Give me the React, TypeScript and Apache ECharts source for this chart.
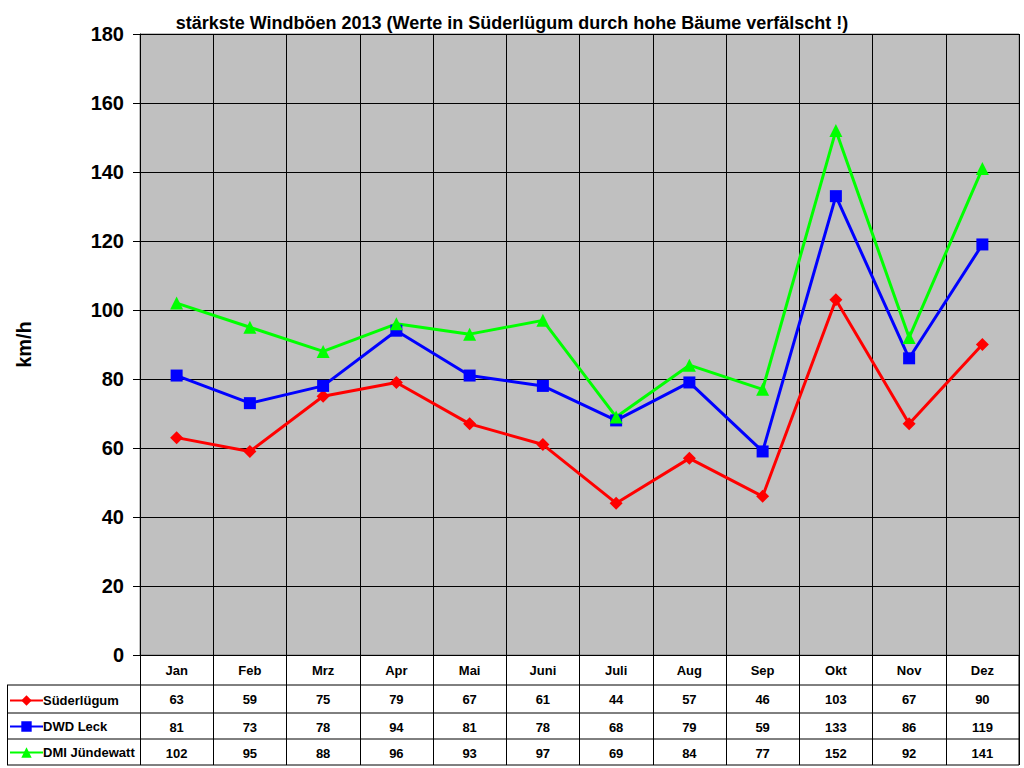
import React, { useEffect, useRef } from "react";
import * as echarts from "echarts";

const months = ["Jan", "Feb", "Mrz", "Apr", "Mai", "Juni", "Juli", "Aug", "Sep", "Okt", "Nov", "Dez"];
const suederluegum = [63, 59, 75, 79, 67, 61, 44, 57, 46, 103, 67, 90];
const dwdLeck = [81, 73, 78, 94, 81, 78, 68, 79, 59, 133, 86, 119];
const dmiJuendewatt = [102, 95, 88, 96, 93, 97, 69, 84, 77, 152, 92, 141];
const seriesNames = ["Süderlügum", "DWD Leck", "DMI Jündewatt"];
const yTicks = { min: 0, max: 180, interval: 20 };

const FONT = "'Liberation Sans', Arial, sans-serif";

export default function App() {
  const ref = useRef<HTMLDivElement>(null);
  useEffect(() => {
    if (!ref.current) return;
    const chart = echarts.init(ref.current, null, { renderer: "svg" });
    const gridLeft = 140, gridRight = 5, gridTop = 34, gridBottom = 113;
    const axisY = 768 - gridBottom;
    const rowLines = [685, 713, 739, 765];
    const mkSeries = (name: string, data: number[], color: string, symbol: string, size: number) => ({
      name,
      type: "line",
      data,
      symbol,
      symbolSize: size,
      showSymbol: true,
      itemStyle: { color },
      lineStyle: { color, width: 3 },
      z: 3,
    });
    const cell = { fontFamily: FONT, fontSize: 13, fontWeight: "bold", color: "#000" };
    chart.setOption({
      animation: false,
      textStyle: { fontFamily: FONT },
      title: {
        text: "stärkste Windböen 2013 (Werte in Süderlügum durch hohe Bäume verfälscht !)",
        left: "center",
        top: 9,
        textStyle: { fontFamily: FONT, fontSize: 18, fontWeight: "bold", color: "#000" },
      },
      legend: {
        orient: "vertical",
        left: 9,
        top: 693,
        padding: 0,
        itemWidth: 33,
        itemHeight: 13,
        itemGap: 11,
        data: seriesNames,
        textStyle: {
          fontFamily: FONT,
          fontSize: 13,
          lineHeight: 15,
          fontWeight: "bold",
          color: "#000",
          padding: [0, 0, 0, -5],
        },
      },
      grid: {
        left: gridLeft,
        right: gridRight,
        top: gridTop,
        bottom: gridBottom,
        show: true,
        backgroundColor: "#c0c0c0",
        borderColor: "#808080",
        borderWidth: 1,
      },
      xAxis: {
        type: "category",
        data: months,
        boundaryGap: true,
        axisLine: { show: true, lineStyle: { color: "#000", width: 1 } },
        axisTick: { show: true, inside: false, length: 110, interval: 0, lineStyle: { color: "#000", width: 1 } },
        splitLine: { show: true, interval: 0, lineStyle: { color: "#000", width: 1 } },
        axisLabel: {
          interval: 0,
          margin: 0,
          formatter: (v: string, i: number) =>
            `{m|${v}}\n{a|${suederluegum[i]}}\n{b|${dwdLeck[i]}}\n{c|${dmiJuendewatt[i]}}`,
          rich: {
            m: { ...cell, lineHeight: 30 },
            a: { ...cell, lineHeight: 29 },
            b: { ...cell, lineHeight: 26 },
            c: { ...cell, lineHeight: 26 },
          },
        },
      },
      yAxis: {
        type: "value",
        min: yTicks.min,
        max: yTicks.max,
        interval: yTicks.interval,
        name: "km/h",
        nameLocation: "middle",
        nameGap: 106,
        nameRotate: 90,
        nameTextStyle: { fontFamily: FONT, fontSize: 20, fontWeight: "bold", color: "#000" },
        axisLine: { show: true, lineStyle: { color: "#000", width: 1 } },
        axisTick: { show: true, inside: false, length: 7, lineStyle: { color: "#000" } },
        splitLine: { show: true, lineStyle: { color: "#000", width: 1 } },
        axisLabel: { fontFamily: FONT, fontSize: 20, fontWeight: "bold", color: "#000", margin: 16 },
      },
      graphic: [
        ...rowLines.map((y) => ({
          type: "line",
          shape: { x1: 7, y1: y, x2: 1024 - gridRight, y2: y },
          style: { stroke: "#000", lineWidth: 1 },
          silent: true,
        })),
        {
          type: "line",
          shape: { x1: 7.5, y1: rowLines[0], x2: 7.5, y2: rowLines[3] },
          style: { stroke: "#000", lineWidth: 1 },
          silent: true,
        },
        {
          type: "line",
          shape: { x1: 1024 - gridRight, y1: axisY, x2: 1024 - gridRight, y2: rowLines[3] },
          style: { stroke: "#000", lineWidth: 1 },
          silent: true,
        },
      ],
      series: [
        mkSeries(seriesNames[0], suederluegum, "#ff0000", "diamond", 13),
        mkSeries(seriesNames[1], dwdLeck, "#0000ff", "rect", 12),
        mkSeries(seriesNames[2], dmiJuendewatt, "#00ff00", "triangle", 13),
      ],
    });
    return () => chart.dispose();
  }, []);
  return (
    <div
      ref={ref}
      style={{ position: "fixed", left: 0, top: 0, width: 1024, height: 768, background: "#fff" }}
    />
  );
}
